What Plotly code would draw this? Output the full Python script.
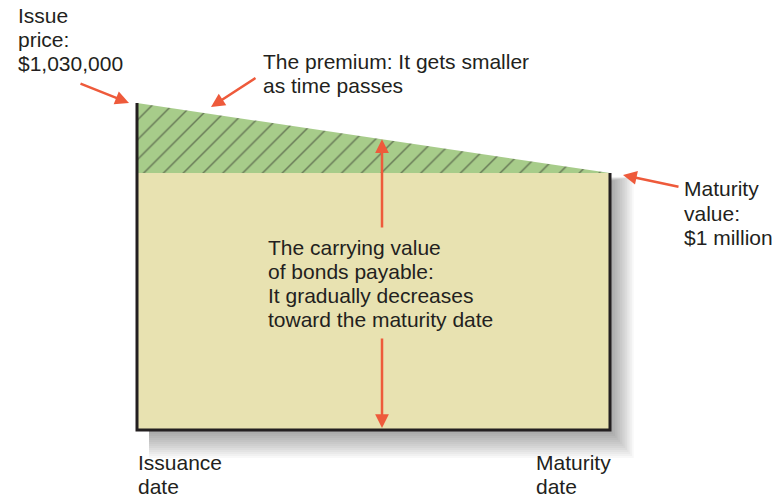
import plotly.graph_objects as go

# ---- data -------------------------------------------------------------
time_pts = [0.0, 1.0]                      # issuance date -> maturity date
carrying_value = [1030000, 1000000]        # issue price -> maturity value
face_value = 1000000                       # maturity value
floor_value = 890000                       # bottom of the schematic axis
carry_arrow_t = 0.518                      # where the vertical arrows sit in time

time_labels = ["Issuance", "date"], ["Maturity", "date"]

# ---- figure geometry (axes fill the whole canvas) ---------------------
W, H = 777, 497
BOX_L, BOX_R, BOX_T, BOX_B = 137, 610, 103, 430   # pixel frame of the box

x_per_px = 1.0 / (BOX_R - BOX_L)
y_per_px = (carrying_value[0] - floor_value) / (BOX_B - BOX_T)
x_range = [-BOX_L * x_per_px, (W - BOX_L) * x_per_px]
y_range = [floor_value - (H - BOX_B) * y_per_px, carrying_value[0] + BOX_T * y_per_px]

TAN = "#e8e2b1"
GREEN = "#a7cc8a"
INK = "#231f20"
RED = "#ee5a3b"
FONT = "Liberation Sans, Arial, sans-serif"


def val_at(t):
    return carrying_value[0] + (carrying_value[1] - carrying_value[0]) * t


fig = go.Figure()

# soft drop shadow behind the box
for k in range(1, 15):
    fig.add_shape(
        type="rect", layer="below", line=dict(width=0),
        x0=time_pts[0] + 12 * x_per_px,
        x1=time_pts[1] + (k * 1.7) * x_per_px,
        y0=floor_value - (k * 2.0) * y_per_px,
        y1=face_value - (8 - k * 0.3) * y_per_px,
        fillcolor="rgba(0,0,0,0.026)",
    )

# carrying value body (tan)
fig.add_trace(go.Scatter(
    x=[time_pts[0], time_pts[1], time_pts[1], time_pts[0]],
    y=[floor_value, floor_value, face_value, face_value],
    fill="toself", fillcolor=TAN, mode="lines", line=dict(width=0),
    hoverinfo="skip",
))

# premium wedge (green, hatched)
fig.add_trace(go.Scatter(
    x=[time_pts[0], time_pts[1], time_pts[0]],
    y=[carrying_value[0], carrying_value[1], face_value],
    fill="toself", fillcolor=GREEN, mode="lines", line=dict(width=0),
    fillpattern=dict(shape="/", bgcolor=GREEN, fgcolor=INK, size=14,
                     solidity=0.1),
    hoverinfo="skip",
))

# frame: left, bottom and right edges
fig.add_trace(go.Scatter(
    x=[time_pts[0], time_pts[0], time_pts[1], time_pts[1]],
    y=[carrying_value[0], floor_value, floor_value, face_value],
    mode="lines", line=dict(color=INK, width=3), hoverinfo="skip",
))


def text_lines(lines, x_px, first_mid_px, step=24, size=21):
    for i, s in enumerate(lines):
        fig.add_annotation(
            xref="paper", yref="paper",
            x=x_px / W, y=1 - (first_mid_px + i * step) / H,
            xanchor="left", yanchor="middle", text=s, showarrow=False,
            font=dict(family=FONT, size=size, color=INK),
        )


def arrow(tip, tail):
    fig.add_annotation(
        xref="paper", yref="paper",
        x=tip[0] / W, y=1 - tip[1] / H,
        ax=tail[0] - tip[0], ay=tail[1] - tip[1], axref="pixel", ayref="pixel",
        text="", showarrow=True, arrowhead=2, arrowsize=1.1, arrowwidth=2.5,
        arrowcolor=RED, standoff=0, startstandoff=0,
    )


# labels
text_lines(["Issue", "price:", "$1,030,000"], 16, 16)
text_lines(["The premium: It gets smaller", "as time passes"], 261, 61)
text_lines(["Maturity", "value:", "$1 million"], 682, 189)
text_lines(["The carrying value", "of bonds payable:",
            "It gradually decreases", "toward the maturity date"], 266, 247)
text_lines(time_labels[0], 136, 462)
text_lines(time_labels[1], 534, 462)

# pointer arrows
arrow((129, BOX_T), (79, 83))
arrow((211, 107), (257, 77))
arrow((623, 175), (680, 187))

# vertical arrows through the carrying value
top_tip_px = BOX_T + (carrying_value[0] - val_at(carry_arrow_t)) / y_per_px
fig.add_annotation(
    xref="x", yref="y", x=carry_arrow_t, y=val_at(carry_arrow_t),
    ax=0, ay=229 - top_tip_px, axref="pixel", ayref="pixel",
    text="", showarrow=True, arrowhead=2, arrowsize=1.1, arrowwidth=2.5,
    arrowcolor=RED, standoff=0,
)
fig.add_annotation(
    xref="x", yref="y", x=carry_arrow_t, y=floor_value + 2 * y_per_px,
    ax=0, ay=337 - (BOX_B - 2), axref="pixel", ayref="pixel",
    text="", showarrow=True, arrowhead=2, arrowsize=1.1, arrowwidth=2.5,
    arrowcolor=RED, standoff=0,
)

fig.update_xaxes(range=x_range, visible=False, fixedrange=True)
fig.update_yaxes(range=y_range, visible=False, fixedrange=True)
fig.update_layout(
    width=W, height=H, margin=dict(l=0, r=0, t=0, b=0),
    paper_bgcolor="white", plot_bgcolor="white",
    showlegend=False, hovermode=False,
)

fig.write_html("out.html", config={"displayModeBar": False})
